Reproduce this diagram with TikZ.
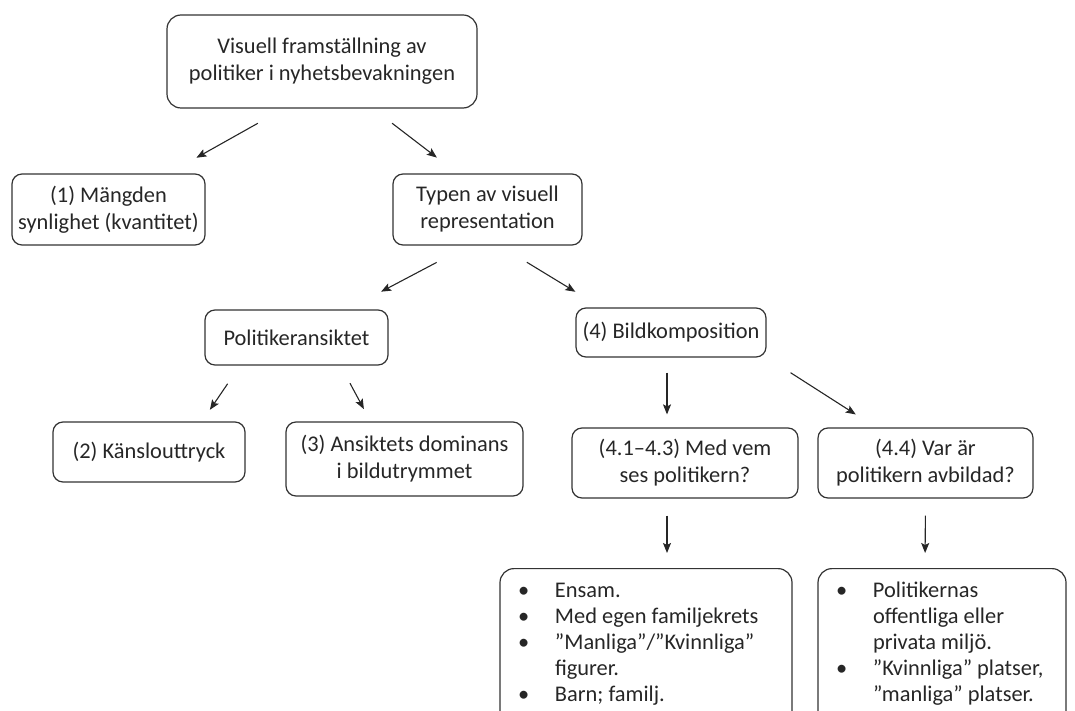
\documentclass[tikz,border=0pt]{standalone}
\usepackage{fontspec}
\setmainfont{Carlito}
\usetikzlibrary{arrows.meta,calc}

\tikzset{
  ruta/.style={draw=black!80, line width=0.6pt, rounded corners=5pt, align=center,
    text=black!85, font=\fontsize{11.2}{13.5}\selectfont, inner sep=2pt},
  lista/.style={draw=black!80, line width=0.6pt, rounded corners=7pt, anchor=north,
    text=black!85, font=\fontsize{11.2}{13}\selectfont, inner sep=0pt},
  pil/.style={-{Stealth[length=5pt,width=4pt,inset=1pt]}, line width=0.55pt, draw=black!85}
}

\newcommand{\punkt}{\hspace*{9pt}\makebox[18.5pt][l]{\textbullet}}
\newcommand{\indrag}{\hspace*{27.5pt}}

\begin{document}
\begin{tikzpicture}[x=0.5pt, y=-0.5pt]
            \useasboundingbox ( 0, 0 ) rectangle ( 1075, 711 );
            \clip ( 0, 0 ) rectangle ( 1075, 711 );

% rubrik
            \node [ruta, rounded corners=7pt, minimum width=155pt, minimum height=46.5pt] (top) at ( 322, 61.5 ) {Visuell framställning av\\politiker i nyhetsbevakningen};

% andra nivån
            \node [ruta, minimum width=96.5pt, minimum height=35.5pt] (mangd) at ( 108.5, 209.5 ) {(1) Mängden\\synlighet (kvantitet)};
            \node [ruta, minimum width=94.5pt, minimum height=35.5pt] (typ) at ( 487.5, 209.5 ) {Typen av visuell\\representation};

% tredje nivån
            \node [ruta, minimum width=91.5pt, minimum height=27.5pt] (ansikte) at ( 296.5, 337.5 ) {Politikeransiktet};
            \node [ruta, minimum width=95pt, minimum height=24.5pt] (bild) at ( 671, 332.5 ) {(4) Bildkomposition};

% fjärde nivån
            \node [ruta, minimum width=96pt, minimum height=30pt] (kansla) at ( 149, 452 ) {(2) Känslouttryck};
            \node [ruta, minimum width=118.5pt, minimum height=37pt] (dominans) at ( 404.5, 459 ) {(3) Ansiktets dominans\\i bildutrymmet};
            \node [ruta, minimum width=113pt, minimum height=35pt] (medvem) at ( 685, 463 ) {(4.1–4.3) Med vem\\ses politikern?};
            \node [ruta, minimum width=107.5pt, minimum height=35pt] (var) at ( 925.5, 463 ) {(4.4) Var är\\politikern avbildad?};

% listor
            \node [lista] (listavem) at ( 646, 568 ) {\begin{minipage}[t][90pt][t]{146pt}
              \punkt\rule{0pt}{14.5pt}Ensam.\\
              \punkt Med egen familjekrets\\
              \punkt ”Manliga”/”Kvinnliga”\\
              \indrag figurer.\\
              \punkt Barn; familj.
            \end{minipage}};
            \node [lista] (listavar) at ( 942, 568 ) {\begin{minipage}[t][90pt][t]{124pt}
              \punkt\rule{0pt}{14.5pt}Politikernas\\
              \indrag offentliga eller\\
              \indrag privata miljö.\\
              \punkt ”Kvinnliga” platser,\\
              \indrag ”manliga” platser.
            \end{minipage}};

% pilar
            \draw [pil, shorten <=15pt, shorten >=16pt] ($ (top.south) + ( -38, 0 ) $) -- ($ (mangd.north) + ( 60, 0 ) $);
            \draw [pil, shorten <=12pt, shorten >=13pt] ($ (top.south) + ( 51, 0 ) $) -- ($ (typ.north) + ( -30, 0 ) $);
            \draw [pil, shorten <=18pt, shorten >=19pt] ($ (typ.south) + ( -19, 0 ) $) -- ($ (ansikte.north) + ( 51, 0 ) $);
            \draw [pil, shorten <=16pt, shorten >=15pt] ($ (typ.south) + ( 12, 0 ) $) -- ($ (bild.north) + ( -70, 0 ) $);
            \draw [pil, shorten <=11pt, shorten >=7pt] ($ (ansikte.south) + ( -56.5, 0 ) $) -- ($ (kansla.north) + ( 53, 0 ) $);
            \draw [pil, shorten <=10pt, shorten >=7pt] ($ (ansikte.south) + ( 44, 0 ) $) -- ($ (dominans.north) + ( -34, 0 ) $);
            \draw [pil, shorten <=7.5pt, shorten >=6.5pt] ($ (bild.south) + ( -4, 0 ) $) -- ($ (medvem.north) + ( -18, 0 ) $);
            \draw [pil, shorten <=14pt, shorten >=12pt] ($ (bild.south) + ( 96, 0 ) $) -- ($ (var.north) + ( -49.5, 0 ) $);
            \draw [pil, shorten <=8.5pt, shorten >=7.5pt] ($ (medvem.south) + ( -18, 0 ) $) -- ($ (listavem.north) + ( 21, 0 ) $);
            \draw [pil, shorten <=8.5pt, shorten >=7.5pt] ($ (var.south) + ( 0, 0 ) $) -- ($ (listavar.north) + ( -17, 0 ) $);
        \end{tikzpicture}
\end{document}
